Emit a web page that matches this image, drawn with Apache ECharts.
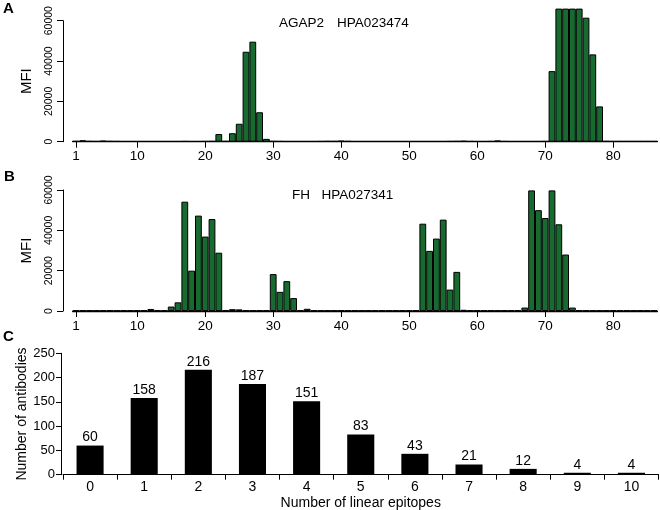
<!DOCTYPE html>
<html><head><meta charset="utf-8">
<script src="https://cdn.jsdelivr.net/npm/echarts@6/dist/echarts.min.js"></script>
<style>html,body{margin:0;padding:0;background:#fff}#c{width:660px;height:510px}</style>
</head><body><div id="c"></div>
<script>
// Peptide positions 1..86
const positions = [];
for (let i = 1; i <= 86; i++) positions.push(String(i));

// Panel A: AGAP2 HPA023474 (MFI per peptide position)
const agap2MFI = [
  300, 700, 300, 250, 500, 300, 250, 200, 200, 200,
  200, 200, 200, 200, 200, 200, 250, 200, 200, 250,
  300, 3800, 300, 4200, 8900, 44600, 49600, 14600, 1400, 300,
  250, 200, 200, 200, 200, 200, 250, 300, 300, 500,
  300, 200, 200, 200, 200, 200, 200, 200, 200, 200,
  200, 200, 200, 200, 200, 250, 300, 400, 250, 200,
  200, 250, 600, 250, 200, 200, 200, 200, 200, 250,
  35000, 66000, 66000, 66000, 66000, 61500, 43300, 17500, 300, 250,
  250, 250, 250, 250, 250, 250
];

// Panel B: FH HPA027341
const fhMFI = [
  250, 250, 300, 250, 250, 300, 250, 300, 250, 250,
  300, 1000, 300, 300, 2200, 4300, 54200, 20000, 47300, 36900,
  45600, 28900, 300, 900, 800, 250, 250, 300, 300, 18300,
  9500, 14800, 6400, 300, 1100, 250, 250, 250, 250, 250,
  250, 250, 250, 250, 250, 250, 250, 250, 250, 250,
  300, 43300, 29800, 35900, 45300, 10600, 19400, 600, 300, 250,
  250, 250, 250, 250, 250, 300, 1700, 59800, 50000, 46100,
  59800, 43000, 28000, 1700, 300, 250, 250, 250, 300, 300,
  250, 250, 250, 250, 250, 250
];

// Panel C
const epitopeCounts = ['0','1','2','3','4','5','6','7','8','9','10'];
const antibodyCounts = [60, 158, 216, 187, 151, 83, 43, 21, 12, 4, 4];

const FONT = 'Liberation Sans, Arial, Helvetica, sans-serif';
const GREEN = '#176a30';
const showTick = (i, v) => v === '1' || Number(v) % 10 === 0;

const chart = echarts.init(document.getElementById('c'), null, {renderer: 'canvas'});

function posXAxis(gi) {
  return {
    gridIndex: gi, type: 'category', data: positions, boundaryGap: true,
    axisLine: {show: true, lineStyle: {color: '#000', width: 1.3}},
    axisTick: {show: true, alignWithLabel: true, interval: showTick, length: 6, lineStyle: {color: '#000'}},
    axisLabel: {interval: showTick, margin: 8, color: '#000', fontSize: 13.5, fontFamily: FONT},
    splitLine: {show: false}
  };
}
function mfiYAxis(gi) {
  return {
    gridIndex: gi, type: 'value', min: 0, max: 60000, interval: 20000, offset: 9.6,
    axisLine: {show: true, lineStyle: {color: '#000', width: 1}},
    axisTick: {show: true, length: 6, lineStyle: {color: '#000'}},
    axisLabel: {rotate: 90, margin: 8, color: '#000', fontSize: 10.5, fontFamily: FONT,
                formatter: v => String(v)},
    splitLine: {show: false},
    name: 'MFI', nameLocation: 'middle', nameGap: 28.5, nameMoveOverlap: false,
    nameTextStyle: {color: '#000', fontSize: 15, fontFamily: FONT}
  };
}
function mfiSeries(gi, data) {
  return {
    type: 'bar', xAxisIndex: gi, yAxisIndex: gi, data: data,
    barCategoryGap: '0%', clip: true, silent: true, animation: false,
    itemStyle: {color: GREEN, borderColor: '#000', borderWidth: 1}
  };
}

const gridBase = {left: 72.6, width: 584.8, outerBoundsMode: 'none', containLabel: false};

const option = {
  animation: false,
  backgroundColor: '#fff',
  textStyle: {fontFamily: FONT},
  grid: [
    Object.assign({}, gridBase, {top: 8.6, height: 133.1}),
    Object.assign({}, gridBase, {top: 20.7, height: 121}),
    Object.assign({}, gridBase, {top: 177.9, height: 133.1}),
    Object.assign({}, gridBase, {top: 190, height: 121}),
    {left: 63, width: 595.5, top: 353.3, height: 121.4, outerBoundsMode: 'none', containLabel: false}
  ],
  xAxis: [
    posXAxis(0),
    {gridIndex: 1, type: 'category', data: positions, show: false},
    posXAxis(2),
    {gridIndex: 3, type: 'category', data: positions, show: false},
    {
      gridIndex: 4, type: 'category', data: epitopeCounts,
      axisLine: {show: true, lineStyle: {color: '#000', width: 1}},
      axisTick: {show: true, length: 5, lineStyle: {color: '#000'}},
      axisLabel: {margin: 5, color: '#000', fontSize: 14, fontFamily: FONT},
      name: 'Number of linear epitopes', nameLocation: 'middle', nameGap: 21, nameMoveOverlap: false,
      nameTextStyle: {color: '#000', fontSize: 14, fontFamily: FONT}
    }
  ],
  yAxis: [
    {gridIndex: 0, type: 'value', min: 0, max: 66000, show: false},
    mfiYAxis(1),
    {gridIndex: 2, type: 'value', min: 0, max: 66000, show: false},
    mfiYAxis(3),
    {
      gridIndex: 4, type: 'value', min: 0, max: 250, interval: 50, offset: 2,
      axisLine: {show: true, lineStyle: {color: '#000', width: 1}},
      axisTick: {show: true, length: 5, lineStyle: {color: '#000'}},
      axisLabel: {margin: 6, color: '#000', fontSize: 13, fontFamily: FONT},
      splitLine: {show: false},
      name: 'Number of antibodies', nameLocation: 'middle', nameGap: 32, nameMoveOverlap: false,
      nameTextStyle: {color: '#000', fontSize: 14, fontFamily: FONT}
    }
  ],
  series: [
    mfiSeries(0, agap2MFI),
    mfiSeries(2, fhMFI),
    {
      type: 'bar', xAxisIndex: 4, yAxisIndex: 4, data: antibodyCounts,
      barWidth: '50%', silent: true,
      itemStyle: {color: '#000'},
      label: {show: true, position: 'top', distance: 1, color: '#000', fontSize: 14, fontFamily: FONT}
    }
  ],
  graphic: [
    {type: 'text', left: 3, top: 1, style: {text: 'A', fontSize: 15, fontWeight: 'bold', fontFamily: FONT, fill: '#000'}},
    {type: 'text', left: 4, top: 169, style: {text: 'B', fontSize: 15, fontWeight: 'bold', fontFamily: FONT, fill: '#000'}},
    {type: 'text', left: 3, top: 329, style: {text: 'C', fontSize: 15, fontWeight: 'bold', fontFamily: FONT, fill: '#000'}},
    {type: 'text', left: 279, top: 16, style: {text: 'AGAP2', fontSize: 13.5, fontFamily: FONT, fill: '#000'}},
    {type: 'text', left: 337, top: 16, style: {text: 'HPA023474', fontSize: 13.5, fontFamily: FONT, fill: '#000'}},
    {type: 'text', left: 292, top: 188, style: {text: 'FH', fontSize: 13.5, fontFamily: FONT, fill: '#000'}},
    {type: 'text', left: 321.5, top: 188, style: {text: 'HPA027341', fontSize: 13.5, fontFamily: FONT, fill: '#000'}}
  ]
};
chart.setOption(option);
</script>
</body></html>
